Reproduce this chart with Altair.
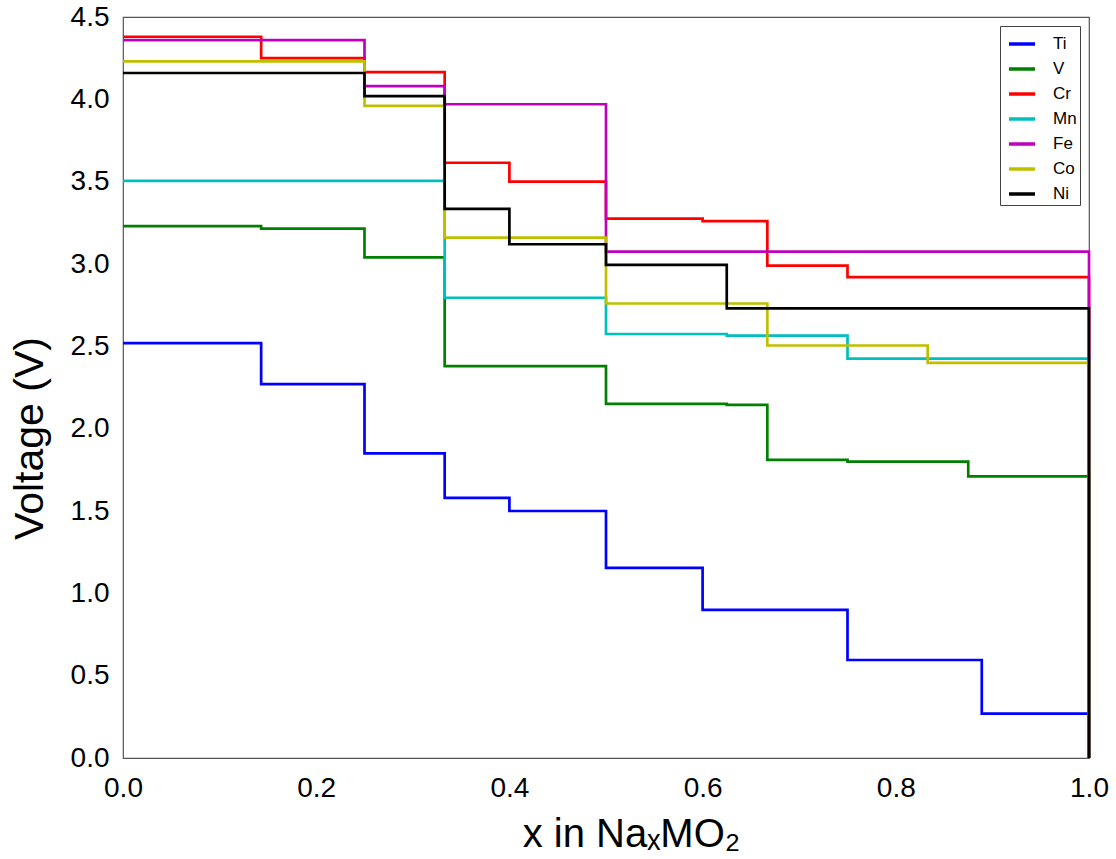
import altair as alt
import pandas as pd

# Metals (legend order) and colours
metals = ["Ti", "V", "Cr", "Mn", "Fe", "Co", "Ni"]
colors = ["#0000ff", "#008000", "#ff0000", "#00bfbf", "#bf00bf", "#bfbf00", "#000000"]

# Step start positions (x in Na_xMO2) and plateau voltages for each metal
ti_x = [0.0, 0.143, 0.25, 0.333, 0.4, 0.5, 0.6, 0.75, 0.889]
ti_v = [2.52, 2.27, 1.85, 1.58, 1.50, 1.155, 0.90, 0.595, 0.27]

v_x = [0.0, 0.143, 0.25, 0.333, 0.5, 0.625, 0.667, 0.75, 0.875]
v_v = [3.23, 3.215, 3.04, 2.38, 2.15, 2.145, 1.81, 1.80, 1.71]

cr_x = [0.0, 0.143, 0.25, 0.333, 0.4, 0.5, 0.6, 0.667, 0.75]
cr_v = [4.38, 4.25, 4.165, 3.615, 3.50, 3.275, 3.26, 2.99, 2.92]

mn_x = [0.0, 0.333, 0.5, 0.625, 0.75]
mn_v = [3.505, 2.795, 2.575, 2.565, 2.425]

fe_x = [0.0, 0.25, 0.333, 0.5]
fe_v = [4.36, 4.08, 3.97, 3.075]

co_x = [0.0, 0.25, 0.333, 0.5, 0.667, 0.833]
co_v = [4.23, 3.96, 3.16, 2.76, 2.505, 2.40]

ni_x = [0.0, 0.25, 0.333, 0.4, 0.5, 0.625]
ni_v = [4.16, 4.02, 3.335, 3.12, 2.995, 2.73]

x_end = 1.0

series = {
    "Ti": (ti_x, ti_v),
    "V": (v_x, v_v),
    "Cr": (cr_x, cr_v),
    "Mn": (mn_x, mn_v),
    "Fe": (fe_x, fe_v),
    "Co": (co_x, co_v),
    "Ni": (ni_x, ni_v),
}

rows = []
idx = 0
for m in metals:
    xs, vs = series[m]
    pts = list(zip(xs, vs)) + [(x_end, vs[-1]), (x_end, 0.0)]
    for x, v in pts:
        rows.append({"metal": m, "x": x, "voltage": v, "i": idx})
        idx += 1
df = pd.DataFrame(rows)

FONT = "Liberation Sans"

chart = (
    alt.Chart(df)
    .mark_line(interpolate="step-after", strokeWidth=2.7)
    .encode(
        x=alt.X(
            "x:Q",
            scale=alt.Scale(domain=[0, 1], nice=False, zero=False),
            axis=alt.Axis(
                title="x in NaₓMO₂",
                values=[0, 0.2, 0.4, 0.6, 0.8, 1.0],
                format=".1f",
                grid=False,
                ticks=False,
                domain=False,
                labelFontSize=28,
                labelPadding=16,
                labelFlush=False,
                titleFontSize=40,
                titleFontWeight="normal",
                titleX=508,
                titleY=88,
                titleBaseline="alphabetic",
                titleAlign="center",
            ),
        ),
        y=alt.Y(
            "voltage:Q",
            scale=alt.Scale(domain=[0, 4.5], nice=False),
            axis=alt.Axis(
                title="Voltage (V)",
                values=[0, 0.5, 1.0, 1.5, 2.0, 2.5, 3.0, 3.5, 4.0, 4.5],
                format=".1f",
                grid=False,
                ticks=False,
                domain=False,
                labelFontSize=28,
                labelPadding=14,
                titleFontSize=41,
                titleFontWeight="normal",
                titleAngle=-90,
                titleX=-93,
                titleY=421,
                titleAlign="center",
                titleBaseline="middle",
            ),
        ),
        color=alt.Color(
            "metal:N",
            scale=alt.Scale(domain=metals, range=colors),
            sort=metals,
            legend=alt.Legend(
                title=None,
                orient="none",
                legendX=877,
                legendY=9,
                symbolType="stroke",
                symbolSize=676,
                symbolStrokeWidth=3.5,
                symbolOffset=4,
                labelFontSize=17,
                labelOffset=16,
                rowPadding=2,
                padding=3,
                strokeColor="#444444",
                fillColor="white",
                labelExpr="datum.label + '    '",
            ),
        ),
        order=alt.Order("i:Q"),
        detail="metal:N",
    )
    .properties(
        width=966,
        height=741,
        autosize=alt.AutoSizeParams(type="none"),
        padding={"left": 123, "top": 17, "right": 27, "bottom": 101},
    )
    .configure(font=FONT)
    .configure_view(stroke="#555555", strokeWidth=1.2)
    .configure_axis(labelFont=FONT, titleFont=FONT, labelColor="#000000", titleColor="#000000")
    .configure_legend(labelFont=FONT, labelColor="#000000")
)

chart.save("out.html", embed_options={"renderer": "svg", "actions": False})
